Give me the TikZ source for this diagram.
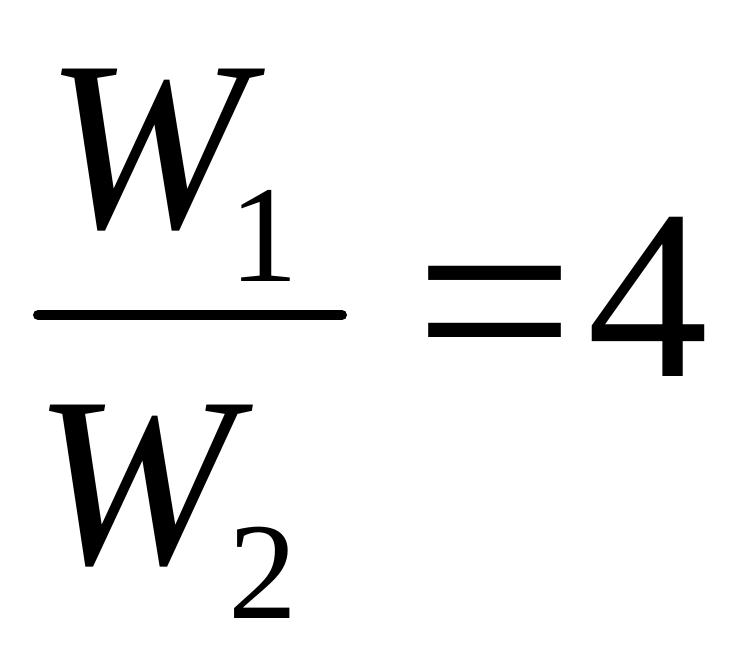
\documentclass[tikz,border=0pt]{standalone}
\usepackage{fontspec}
\setmainfont{Liberation Serif}
\begin{document}
\begin{tikzpicture}[x=1pt,y=-1pt,
  big/.style={inner sep=0pt,anchor=base west,font=\fontsize{242}{242}\selectfont},
  sub/.style={inner sep=0pt,anchor=base west,font=\fontsize{138}{138}\selectfont}]
\useasboundingbox (0,0) rectangle (748,669);
\node[big] (w1) at (45,227) {\itshape W};
\node[sub] (s1) at (229,281) {1};
\node[big] (w2) at (33,563) {\itshape W};
\node[sub] (s2) at (228,618) {2};
\coordinate (b1) at (38,315);
\coordinate (b2) at (342,315);
\draw[line width=10pt,line cap=round] (b1) -- (b2);
\node[big,font=\fontsize{285}{285}\selectfont] (eq) at (414,396) {=};
\node[big] (four) at (587,376) {4};
\end{tikzpicture}
\end{document}
